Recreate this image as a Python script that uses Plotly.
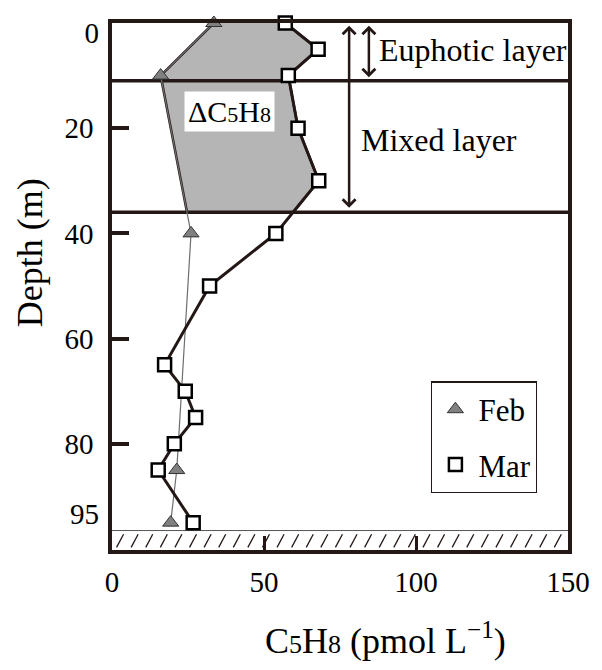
import numpy as np
import plotly.graph_objects as go

# Isoprene (C5H8) depth profiles, February and March
feb_depth = [0, 10, 40, 85, 95]
feb_c5h8 = [33.5, 16.0, 26.0, 21.3, 19.3]

mar_depth = [0, 5, 10, 20, 30, 40, 50, 65, 70, 75, 80, 85, 95]
mar_c5h8 = [57.0, 67.8, 58.0, 61.2, 68.0, 53.9, 32.1, 17.3, 24.1, 27.5, 20.5, 15.2, 26.7]

# Layer boundaries (m) and sea floor
euphotic_depth = 11.0
mixed_depth = 36.0
seafloor_depth = 96.5

x_ticks = [0, 50, 100, 150]
y_ticks = [20, 40, 60, 80]
y_top_tick = [0]
y_bottom_tick = [95]

X_RANGE = [0, 150]
Y_RANGE = [100.2, 0]

INK = "#231815"
FONT = "Liberation Serif, Times New Roman, serif"

fig = go.Figure()

# Shaded area between the two profiles inside the mixed layer
fd = np.array(feb_depth, float); fc = np.array(feb_c5h8, float)
md = np.array(mar_depth, float); mc = np.array(mar_c5h8, float)
feb_in = fd <= mixed_depth
mar_in = md <= mixed_depth
poly_x = list(fc[feb_in]) + [np.interp(mixed_depth, fd, fc), np.interp(mixed_depth, md, mc)] + list(mc[mar_in][::-1])
poly_y = list(fd[feb_in]) + [mixed_depth, mixed_depth] + list(md[mar_in][::-1])
fig.add_trace(go.Scatter(x=poly_x, y=poly_y, mode="lines", fill="toself",
                         fillcolor="#b5b5b5", line=dict(color=INK, width=2.5),
                         showlegend=False, hoverinfo="skip"))

# Sea floor band with slanted hatching
fig.add_trace(go.Scatter(x=[X_RANGE[0], X_RANGE[1]], y=[seafloor_depth, seafloor_depth],
                         mode="lines", line=dict(color="#555555", width=1),
                         showlegend=False, hoverinfo="skip"))
hx, hy = [], []
for x0 in np.arange(1.5, 147.0, 4.8):
    hx += [x0, x0 + 2.3, None]
    hy += [99.7, 97.2, None]
fig.add_trace(go.Scatter(x=hx, y=hy, mode="lines", line=dict(color=INK, width=1.3),
                         showlegend=False, hoverinfo="skip"))

# Euphotic and mixed layer boundaries
for d in (euphotic_depth, mixed_depth):
    fig.add_trace(go.Scatter(x=X_RANGE, y=[d, d], mode="lines",
                             line=dict(color=INK, width=3.5),
                             showlegend=False, hoverinfo="skip"))

# February profile
fig.add_trace(go.Scatter(x=feb_c5h8, y=feb_depth, mode="lines",
                         line=dict(color="#6e6e6e", width=1.2),
                         showlegend=False, hoverinfo="skip"))
# March profile
fig.add_trace(go.Scatter(x=mar_c5h8, y=mar_depth, mode="lines",
                         line=dict(color=INK, width=3),
                         showlegend=False, hoverinfo="skip"))
fig.add_trace(go.Scatter(x=feb_c5h8, y=feb_depth, mode="markers", name="Feb",
                         legendgroup="feb", cliponaxis=False,
                         marker=dict(symbol="triangle-up", size=14, color="#808080",
                                     line=dict(color="#333333", width=1))))
fig.add_trace(go.Scatter(x=mar_c5h8, y=mar_depth, mode="markers", name="Mar",
                         legendgroup="mar", cliponaxis=False,
                         marker=dict(symbol="square", size=13, color="white",
                                     line=dict(color="black", width=2.5))))

# Edge depth labels without tick marks
fig.add_trace(go.Scatter(x=[None], y=[None], yaxis="y2", showlegend=False, hoverinfo="skip"))
fig.add_trace(go.Scatter(x=[None], y=[None], yaxis="y3", showlegend=False, hoverinfo="skip"))

# Layer arrows
for xa, yb in ((78, mixed_depth - 0.6), (84.5, euphotic_depth - 0.4)):
    fig.add_annotation(x=xa, y=0.5, ax=xa, ay=yb, xref="x", yref="y", axref="x", ayref="y",
                       text="", showarrow=True, arrowhead=4, startarrowhead=4,
                       arrowside="end+start", arrowsize=1, arrowwidth=2.5, arrowcolor=INK)

fig.add_annotation(x=87.2, y=5.1, xref="x", yref="y", text="Euphotic layer",
                   showarrow=False, xanchor="left", yanchor="middle",
                   font=dict(size=32, color="black"))
fig.add_annotation(x=81.2, y=22.2, xref="x", yref="y", text="Mixed layer",
                   showarrow=False, xanchor="left", yanchor="middle",
                   font=dict(size=32, color="black"))
fig.add_annotation(x=38.5, y=16.9, xref="x", yref="y",
                   text='ΔC<span style="font-size:22px">5</span>H<span style="font-size:22px">8</span>',
                   showarrow=False, bgcolor="white", borderpad=3,
                   font=dict(size=30, color="black"))

# Axis titles
fig.add_annotation(x=-0.18, y=0.565, xref="paper", yref="paper", text="Depth (m)",
                   textangle=-90, showarrow=False, xanchor="center", yanchor="middle",
                   font=dict(size=36, color="black"))
fig.add_annotation(x=0.599, y=-0.167, xref="paper", yref="paper",
                   text='C<span style="font-size:26px">5</span>H<span style="font-size:26px">8</span> (pmol L<sup>−1</sup>)',
                   showarrow=False, xanchor="center", yanchor="middle",
                   font=dict(size=36, color="black"))

edge_axis = dict(range=Y_RANGE, overlaying="y", side="left", anchor="x", ticks="",
                 showline=False, showgrid=False, zeroline=False,
                 tickfont=dict(size=29), ticklabelstandoff=12)

fig.update_layout(
    width=602, height=670,
    margin=dict(l=112, r=34, t=23, b=120),
    paper_bgcolor="white", plot_bgcolor="white",
    font=dict(family=FONT, color="black"),
    showlegend=True,
    legend=dict(x=0.70, y=0.32, xanchor="left", yanchor="top",
                bgcolor="white", bordercolor=INK, borderwidth=1.2,
                font=dict(size=31, color="black"), itemwidth=36,
                entrywidth=82, traceorder="grouped", tracegroupgap=12),
    xaxis=dict(range=X_RANGE, tickvals=x_ticks, ticks="inside", ticklen=14, tickwidth=3,
               tickcolor=INK, showline=True, linecolor=INK, linewidth=3.5, mirror=True,
               showgrid=False, zeroline=False, tickfont=dict(size=29),
               ticklabelstandoff=3),
    yaxis=dict(range=Y_RANGE, tickvals=y_ticks, ticks="inside", ticklen=17, tickwidth=3.5,
               tickcolor=INK, showline=True, linecolor=INK, linewidth=3.5, mirror=True,
               showgrid=False, zeroline=False, tickfont=dict(size=29),
               ticklabelstandoff=9),
    yaxis2=dict(edge_axis, tickvals=y_top_tick, ticklabelshift=-10),
    yaxis3=dict(edge_axis, tickvals=y_bottom_tick, ticklabelshift=9),
)

fig.write_html("out.html")
